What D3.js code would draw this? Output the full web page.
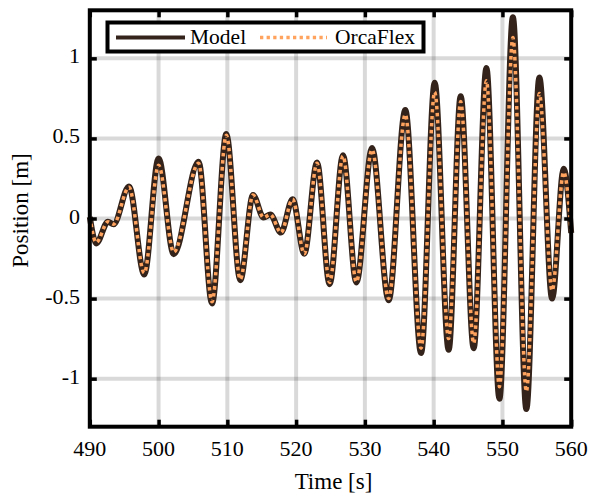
<!DOCTYPE html>
<html>
<head>
<meta charset="utf-8">
<script src="https://cdn.jsdelivr.net/npm/d3@7"></script>
<style>
  html, body { margin: 0; padding: 0; background: #fff; }
  svg { display: block; }
  text { font-family: "Liberation Serif", "Times New Roman", serif; fill: #000; }
</style>
</head>
<body>
<svg id="chart" width="589" height="496"></svg>
<script>
// ---- data ----
const time = [490, 490.94, 492.64, 493.45, 495.7, 497.92, 500.0, 502.2, 505.82, 507.77, 509.85, 511.88,
  513.73, 515.27, 516.25, 517.8, 519.49, 521.19, 523.04, 524.87, 526.82, 528.76, 531.04, 533.45,
  535.88, 538.17, 540.15, 542.18, 543.93, 545.82, 547.67, 549.56, 551.52, 553.48, 555.37, 557.22,
  558.91, 560];
const modelPos = [0.01, -0.156, -0.02, -0.036, 0.20, -0.35, 0.375, -0.223, 0.355, -0.53, 0.527, -0.385,
  0.146, 0.006, 0.025, -0.088, 0.12, -0.22, 0.35, -0.41, 0.395, -0.40, 0.44, -0.51,
  0.677, -0.84, 0.848, -0.82, 0.764, -0.81, 0.94, -1.125, 1.256, -1.19, 0.88, -0.50,
  0.31, -0.09];
const orcaPos = [0.01, -0.15, -0.02, -0.036, 0.195, -0.34, 0.333, -0.21, 0.345, -0.52, 0.52, -0.38,
  0.146, 0.006, 0.025, -0.088, 0.12, -0.22, 0.345, -0.40, 0.39, -0.395, 0.43, -0.50,
  0.65, -0.81, 0.79, -0.75, 0.73, -0.78, 0.86, -1.05, 1.13, -1.08, 0.78, -0.45,
  0.29, -0.09];
const xTicks = [490, 500, 510, 520, 530, 540, 550, 560];
const yTicks = [-1, -0.5, 0, 0.5, 1];
const yTickLabels = ["-1", "-0.5", "0", "0.5", "1"];
const seriesNames = ["Model", "OrcaFlex"];
const xLabel = "Time [s]";
const yLabel = "Position [m]";

// ---- layout ----
const svg = d3.select("#chart");
const L = 89.8, R = 571.2, T = 10.3, B = 426.7;
const x = d3.scaleLinear().domain([490, 560]).range([L, R]);
const y = d3.scaleLinear().domain([-1.3, 1.3]).range([B, T]);

// grid
const grid = svg.append("g");
grid.selectAll("line.gx").data(xTicks.slice(1, -1)).join("line")
  .attr("x1", d => x(d)).attr("x2", d => x(d)).attr("y1", T).attr("y2", B)
  .attr("stroke", "#000").attr("stroke-opacity", 0.15).attr("stroke-width", 4);
grid.selectAll("line.gy").data(yTicks).join("line")
  .attr("x1", L).attr("x2", R).attr("y1", d => y(d)).attr("y2", d => y(d))
  .attr("stroke", "#000").attr("stroke-opacity", 0.15).attr("stroke-width", 4);

// lines
const modelData = time.map((t, i) => [t, modelPos[i]]);
const orcaData = time.map((t, i) => [t, orcaPos[i]]);
const line = d3.line().x(d => x(d[0])).y(d => y(d[1])).curve(d3.curveMonotoneX);

svg.append("path").datum(modelData).attr("d", line)
  .attr("fill", "none").attr("stroke", "#33231a").attr("stroke-width", 6)
  .attr("stroke-linejoin", "round");
svg.append("path").datum(orcaData).attr("d", line)
  .attr("fill", "none").attr("stroke", "#ffa35e").attr("stroke-width", 3.5)
  .attr("stroke-dasharray", "3.5,3.5");

// axes (inward ticks on all sides)
const tickLen = 7;
const axB = d3.axisBottom(x).tickValues(xTicks).tickSize(-tickLen).tickFormat("");
const axT = d3.axisTop(x).tickValues(xTicks).tickSize(-tickLen).tickFormat("");
const axLf = d3.axisLeft(y).tickValues(yTicks).tickSize(-tickLen).tickFormat("");
const axRt = d3.axisRight(y).tickValues(yTicks).tickSize(-tickLen).tickFormat("");
function styleAxis(g) {
  g.select(".domain").remove();
  g.selectAll(".tick line").attr("stroke", "#000").attr("stroke-width", 3.5);
}
svg.append("g").attr("transform", `translate(0,${B})`).call(axB).call(styleAxis);
svg.append("g").attr("transform", `translate(0,${T})`).call(axT).call(styleAxis);
svg.append("g").attr("transform", `translate(${L},0)`).call(axLf).call(styleAxis);
svg.append("g").attr("transform", `translate(${R},0)`).call(axRt).call(styleAxis);

// frame
svg.append("rect").attr("x", L).attr("y", T).attr("width", R - L).attr("height", B - T)
  .attr("fill", "none").attr("stroke", "#000").attr("stroke-width", 4);

// tick labels
svg.append("g").selectAll("text").data(xTicks).join("text")
  .attr("x", d => x(d)).attr("y", 456).attr("text-anchor", "middle")
  .attr("font-size", 22).text(d => d);
svg.append("g").selectAll("text").data(yTicks).join("text")
  .attr("x", 80).attr("y", d => y(d) + 5).attr("text-anchor", "end")
  .attr("font-size", 22).text((d, i) => yTickLabels[i]);

// axis labels
svg.append("text").attr("x", (L + R) / 2 + 3).attr("y", 489).attr("text-anchor", "middle")
  .attr("font-size", 23).text(xLabel);
svg.append("text").attr("transform", `translate(28,${(T + B) / 2 - 8}) rotate(-90)`)
  .attr("text-anchor", "middle").attr("font-size", 23).text(yLabel);

// legend
const lg = svg.append("g");
lg.append("rect").attr("x", 107.5).attr("y", 22.5).attr("width", 316).attr("height", 29)
  .attr("fill", "#fff").attr("stroke", "#000").attr("stroke-width", 4);
lg.append("line").attr("x1", 116).attr("x2", 185).attr("y1", 37.5).attr("y2", 37.5)
  .attr("stroke", "#33231a").attr("stroke-width", 4);
lg.append("text").attr("x", 190).attr("y", 44).attr("font-size", 21.5).text(seriesNames[0]);
lg.append("line").attr("x1", 260).attr("x2", 327).attr("y1", 37.5).attr("y2", 37.5)
  .attr("stroke", "#ffa35e").attr("stroke-width", 3.5).attr("stroke-dasharray", "3.3,3.3");
lg.append("text").attr("x", 335).attr("y", 44).attr("font-size", 21.5).text(seriesNames[1]);
</script>
</body>
</html>
